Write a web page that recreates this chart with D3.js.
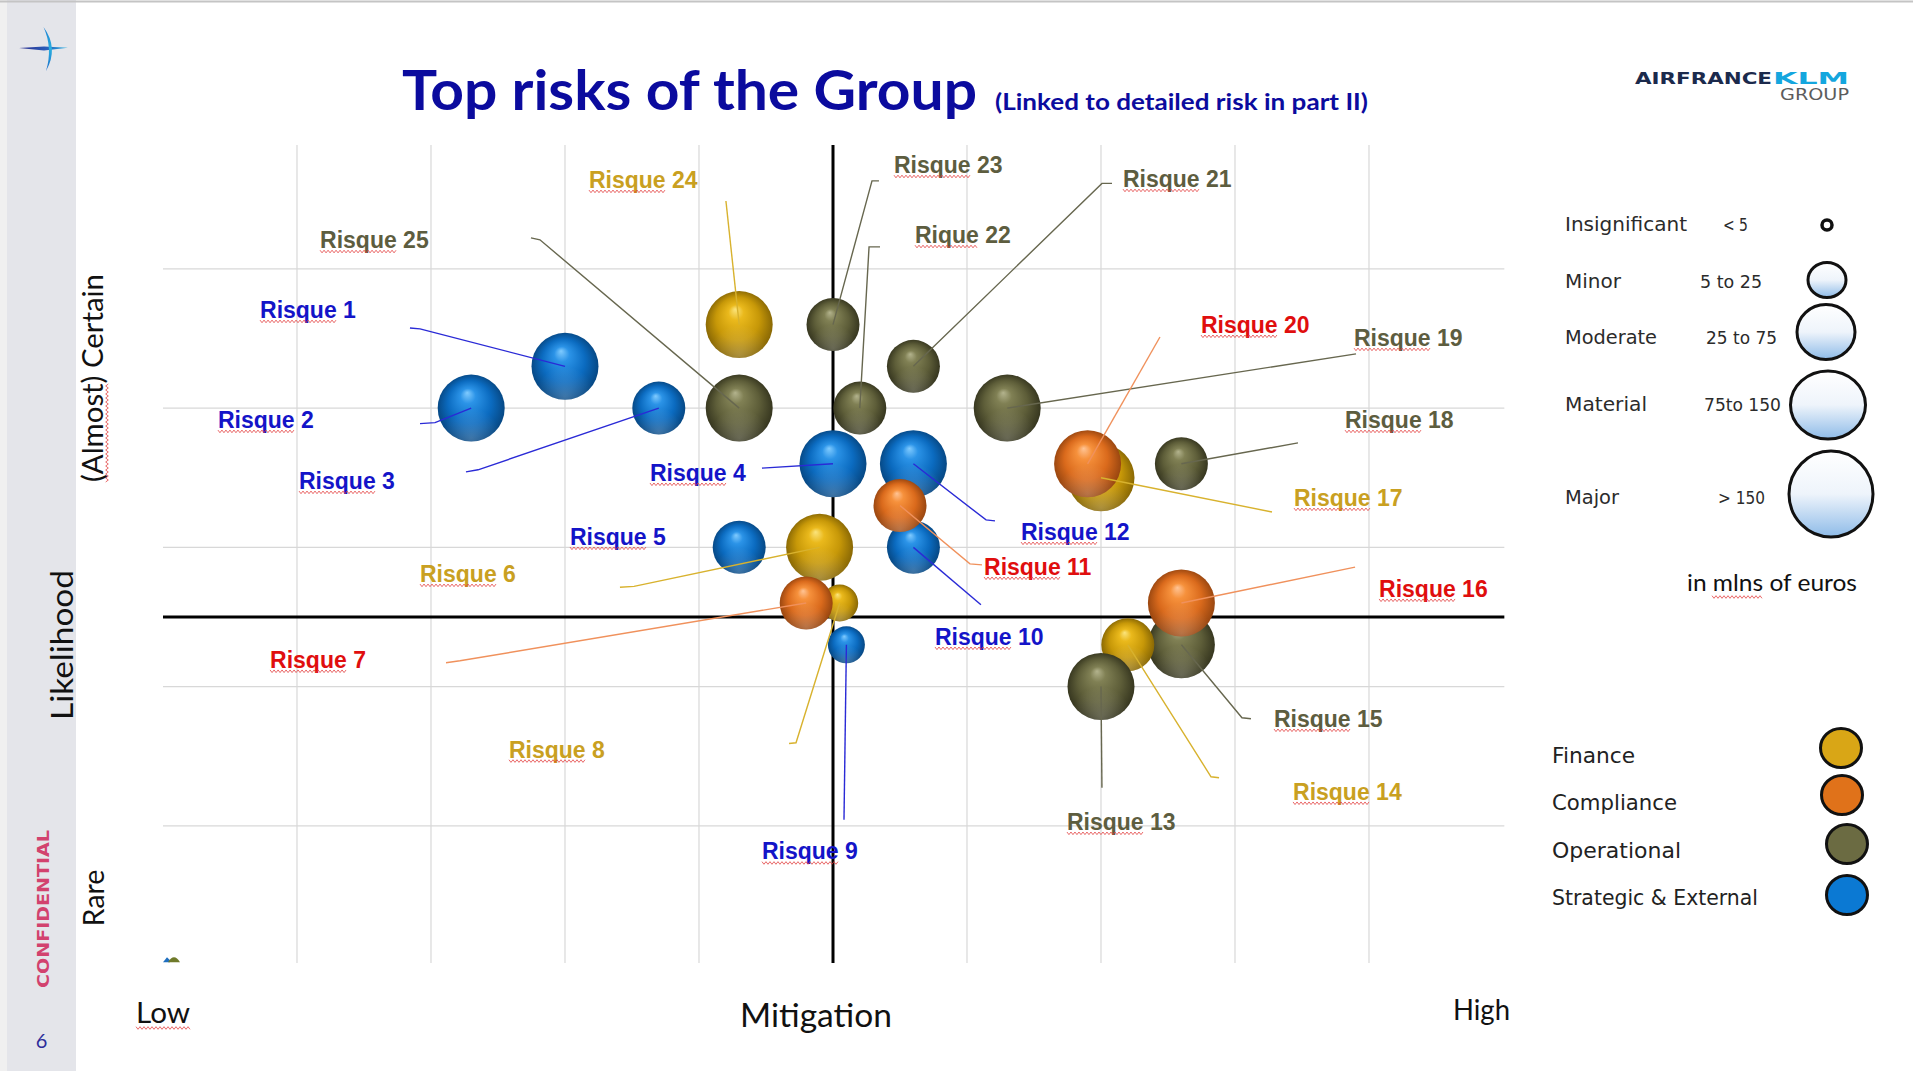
<!DOCTYPE html>
<html><head><meta charset="utf-8">
<script src="https://cdn.jsdelivr.net/npm/d3@7"></script>
<style>html,body{margin:0;padding:0;background:#fff;overflow:hidden}</style>
</head><body>
<svg id="c" width="1913" height="1071"></svg>
<script>
// ---------------- DATA ----------------
const risks = ["Risque 1","Risque 2","Risque 3","Risque 4","Risque 5","Risque 6","Risque 7","Risque 8","Risque 9","Risque 10",
  "Risque 11","Risque 12","Risque 13","Risque 14","Risque 15","Risque 16","Risque 17","Risque 18","Risque 19","Risque 20",
  "Risque 21","Rique 22","Risque 23","Risque 24","Risque 25"];
const categories = ["Finance","Compliance","Operational","Strategic & External"];
const riskCategory = ["Strategic & External","Strategic & External","Strategic & External","Strategic & External","Strategic & External",
  "Finance","Compliance","Finance","Strategic & External","Strategic & External",
  "Compliance","Strategic & External","Operational","Finance","Operational",
  "Compliance","Finance","Operational","Operational","Compliance",
  "Operational","Operational","Operational","Finance","Operational"];
// mitigation (x) and likelihood (y)
const mitigation = [3.0,2.3,3.7,5.0,4.3,4.9,4.8,5.05,5.1,5.6, 5.5,5.6,7.0,7.2,7.6,7.6,7.0,7.6,6.3,6.9, 5.6,5.2,5.0,4.3,4.3];
const likelihood = [4.3,4.0,4.0,3.6,3.0,3.0,2.6,2.6,2.3,3.0, 3.3,3.6,2.0,2.3,2.3,2.6,3.5,3.6,4.0,3.6, 4.3,4.0,4.6,4.6,4.0];
const impact = ["Material","Material","Moderate","Material","Moderate","Material","Moderate","Minor","Minor","Moderate",
  "Moderate","Material","Material","Moderate","Material","Material","Material","Moderate","Material","Material",
  "Moderate","Moderate","Moderate","Material","Material"];
// label anchor (left, baseline) in data units
const labelX = [0.724,0.410,1.015,3.634,3.037,1.918,0.799,2.582,4.470,5.761, 6.127,6.403,6.746,8.433,8.291,9.075,8.440,8.821,8.888,7.746, 7.164,5.612,5.455,3.179,1.172];
const labelY = [4.648,3.858,3.420,3.478,3.018,2.752,2.135,1.490,0.758,2.300, 2.803,3.054,0.971,1.187,1.711,2.645,3.298,3.858,4.447,4.541, 5.589,5.186,5.689,5.582,5.150];
// leader lines: start point, optional elbow (null = none); end is the bubble
const leadStartX = [1.843,1.918,2.261,4.470,null,3.410,2.112,4.672,5.082,6.104, 6.112,6.209,7.007,7.881,8.119,8.896,8.276,8.470,8.903,7.440, 7.082,5.351,5.343,4.201,2.746];
const leadStartY = [4.576,3.889,3.542,3.569,null,2.713,2.171,1.591,1.043,2.588, 2.874,3.190,1.273,1.345,1.769,2.858,3.254,3.750,4.390,4.511, 5.614,5.158,5.632,5.488,5.223];
const leadElbowX = [1.918,2.030,2.351,null,null,3.515,2.216,4.724,null,null, 6.022,6.142,null,7.821,8.052,null,null,null,null,null, 7.007,5.269,5.291,null,2.813];
const leadElbowY = [4.569,3.896,3.557,null,null,2.720,2.185,1.596,null,null, 2.881,3.197,null,1.352,1.776,null,null,null,null,null, 5.614,5.158,5.632,null,5.209];
const drawOrder = [1,0,2,24,23,22,21,20,18,3,11,9,10,4,5,7,6,8,16,19,17,14,13,12,15];
const sizeClasses = ["Insignificant","Minor","Moderate","Material","Major"];
const sizeRanges = ["< 5","5 to 25","25 to 75","75to 150","> 150"];
const xGridTicks = [1,2,3,4,6,7,8,9];
const yGridTicks = [1,2,3,4,5];

// ---------------- STYLE ----------------
const W = 1913, H = 1071;
const catFlat  = {"Finance":"#d9a616","Compliance":"#e0721a","Operational":"#6b6b42","Strategic & External":"#0b79d3"};
const catLabel = {"Finance":"#c9a021","Compliance":"#e00e0e","Operational":"#5d5d3f","Strategic & External":"#1414c8"};
const catLine  = {"Finance":"#d8b22e","Compliance":"#f0915c","Operational":"#67674f","Strategic & External":"#2a2ad6"};
const catSphere = {
  "Finance":["#fbe47c","#eab91c","#c79808","#846404"],
  "Compliance":["#ffc495","#f6913c","#da6a1c","#93430f"],
  "Operational":["#b3b38d","#808054","#5e5e39","#33331d"],
  "Strategic & External":["#80cbff","#2b93e7","#0b6bc0","#06457f"]
};

const svg = d3.select("#c");
const defs = svg.append("defs");

const x = d3.scaleLinear().domain([0,10]).range([163,1503]);
const y = d3.scaleLinear().domain([0,5.89]).range([965,145]);
const r = d3.scaleOrdinal().domain(["Minor","Moderate","Material"]).range([18.5,26.5,33.5]);

// background + sidebar
svg.append("rect").attr("width",W).attr("height",H).attr("fill","#fff");
svg.append("rect").attr("x",0).attr("y",0).attr("width",7).attr("height",H).attr("fill","#f0f0f0");
svg.append("rect").attr("x",7).attr("y",0).attr("width",69).attr("height",H).attr("fill","#e4e5ea");
svg.append("line").attr("x1",0).attr("x2",W).attr("y1",1.5).attr("y2",1.5).attr("stroke","#c4c4c4").attr("stroke-width",2);

// plane logo
const lg1 = defs.append("linearGradient").attr("id","planeH").attr("x1","0").attr("x2","1");
lg1.append("stop").attr("offset",0).attr("stop-color","#2a2a8c");
lg1.append("stop").attr("offset",0.55).attr("stop-color","#2a5cb8");
lg1.append("stop").attr("offset",1).attr("stop-color","#22b4e6");
const lg2 = defs.append("linearGradient").attr("id","planeV").attr("x1","0").attr("x2","0").attr("y1","0").attr("y2","1");
lg2.append("stop").attr("offset",0).attr("stop-color","#1d7fd2");
lg2.append("stop").attr("offset",0.5).attr("stop-color","#2ab0e0");
lg2.append("stop").attr("offset",1).attr("stop-color","#1a68c8");
svg.append("path").attr("d","M19,48 L44,46.4 L68,47.8 L44,50.4 Z").attr("fill","url(#planeH)");
svg.append("path").attr("d","M43.5,27 Q59,48 46,71 Q53,48 43.5,27 Z").attr("fill","url(#planeV)");

// CONFIDENTIAL and page number
svg.append("text").attr("transform","translate(49,909) rotate(-90)").attr("text-anchor","middle")
  .attr("font-family","DejaVu Sans").attr("font-weight","bold").attr("font-size",16)
  .attr("fill","#d2426e").attr("textLength",158).attr("lengthAdjust","spacingAndGlyphs").text("CONFIDENTIAL");
svg.append("text").attr("x",41.5).attr("y",1048).attr("text-anchor","middle").attr("font-family","Lato")
  .attr("font-size",20).attr("fill","#2d2d9a").text("6");

// Title
svg.append("text").attr("x",402).attr("y",110).attr("font-family","Lato").attr("font-weight","bold")
  .attr("font-size",56).attr("fill","#0b0b9e").attr("textLength",575).attr("lengthAdjust","spacingAndGlyphs")
  .text("Top risks of the Group");
svg.append("text").attr("x",995).attr("y",110).attr("font-family","Lato").attr("font-weight","bold")
  .attr("font-size",22).attr("fill","#0b0b9e").attr("textLength",373).attr("lengthAdjust","spacingAndGlyphs")
  .text("(Linked to detailed risk in part II)");

// Air France KLM logo
svg.append("text").attr("x",1635).attr("y",84).attr("font-family","DejaVu Sans").attr("font-weight","bold")
  .attr("font-size",16).attr("fill","#1b2a4c").attr("textLength",137).attr("lengthAdjust","spacingAndGlyphs").text("AIRFRANCE");
svg.append("text").attr("x",1773).attr("y",84).attr("font-family","DejaVu Sans").attr("font-weight","bold")
  .attr("font-size",16).attr("fill","#14a6de").attr("textLength",76).attr("lengthAdjust","spacingAndGlyphs").text("KLM");
svg.append("text").attr("x",1780).attr("y",100).attr("font-family","DejaVu Sans")
  .attr("font-size",15).attr("fill","#5c5c5c").attr("textLength",69).attr("lengthAdjust","spacingAndGlyphs").text("GROUP");

// squiggle helper (spell-check underline)
function squiggle(g, x1, x2, yy){
  const pts = [];
  let k = 0;
  for (let xx = x1; xx <= x2; xx += 2){ pts.push([xx, yy + (k%2 ? 1.3 : -1.3)]); k++; }
  g.append("path").attr("d", d3.line()(pts)).attr("fill","none").attr("stroke","#e23a3a").attr("stroke-width",0.9).attr("opacity",0.85);
}

// Grid
const grid = svg.append("g");
grid.selectAll(".vg").data(xGridTicks).join("line").attr("class","vg")
  .attr("x1",d=>x(d)).attr("x2",d=>x(d)).attr("y1",y(5.89)).attr("y2",y(0.015))
  .attr("stroke","#d8d8d8").attr("stroke-width",1.2);
grid.selectAll(".hg").data(yGridTicks).join("line").attr("class","hg")
  .attr("x1",x(0)).attr("x2",x(10.01)).attr("y1",d=>y(d)).attr("y2",d=>y(d))
  .attr("stroke","#d8d8d8").attr("stroke-width",1.2);
// axes cross
grid.append("line").attr("x1",x(5)).attr("x2",x(5)).attr("y1",y(5.89)).attr("y2",y(0.015)).attr("stroke","#000").attr("stroke-width",3);
grid.append("line").attr("x1",x(0)).attr("x2",x(10.01)).attr("y1",y(2.5)).attr("y2",y(2.5)).attr("stroke","#000").attr("stroke-width",3);

// tiny chart icon at origin
svg.append("path").attr("d",`M${x(0)},${y(0.02)} l4,-5 l3,3 l0,2 Z`).attr("fill","#1f6fc0");
svg.append("path").attr("d",`M${x(0)+5},${y(0.02)} q6,-10 12,0 Z`).attr("fill","#6f7a2a");

// Axis titles
const axisFont = "Lato";
svg.append("text").attr("transform","translate(73,645) rotate(-90)").attr("text-anchor","middle")
  .attr("font-family",axisFont).attr("font-size",31).attr("fill","#111").attr("textLength",150).attr("lengthAdjust","spacingAndGlyphs").text("Likelihood");
const alm = svg.append("g").attr("transform","translate(103,378) rotate(-90)");
alm.append("text").attr("text-anchor","middle").attr("font-family",axisFont).attr("font-size",28).attr("fill","#111")
  .attr("textLength",208).attr("lengthAdjust","spacingAndGlyphs").text("(Almost) Certain");
squiggle(alm, -104, -6, 4);
svg.append("text").attr("transform","translate(104,898) rotate(-90)").attr("text-anchor","middle")
  .attr("font-family",axisFont).attr("font-size",28).attr("fill","#111").attr("textLength",57).attr("lengthAdjust","spacingAndGlyphs").text("Rare");
svg.append("text").attr("x",136).attr("y",1023).attr("font-family",axisFont).attr("font-size",28).attr("fill","#111")
  .attr("textLength",54).attr("lengthAdjust","spacingAndGlyphs").text("Low");
squiggle(svg, 136, 190, 1028);
svg.append("text").attr("x",740).attr("y",1027).attr("font-family",axisFont).attr("font-size",33).attr("fill","#111")
  .attr("textLength",152).attr("lengthAdjust","spacingAndGlyphs").text("Mitigation");
svg.append("text").attr("x",1453).attr("y",1020).attr("font-family",axisFont).attr("font-size",28).attr("fill","#111")
  .attr("textLength",57).attr("lengthAdjust","spacingAndGlyphs").text("High");

// Sphere gradients
const offs = [0,0.22,0.62,1];
categories.forEach((c,k)=>{
  const g = defs.append("radialGradient").attr("id","sph"+k)
    .attr("cx","50%").attr("cy","50%").attr("r","52%").attr("fx","44%").attr("fy","27%");
  catSphere[c].forEach((col,j)=> g.append("stop").attr("offset",offs[j]).attr("stop-color",col));
});
const rim = defs.append("radialGradient").attr("id","rim").attr("cx","50%").attr("cy","95%").attr("r","45%");
rim.append("stop").attr("offset",0).attr("stop-color","#fff").attr("stop-opacity",0.22);
rim.append("stop").attr("offset",1).attr("stop-color","#fff").attr("stop-opacity",0);

// Bubbles
const bub = svg.append("g");
drawOrder.forEach(i=>{
  const k = categories.indexOf(riskCategory[i]);
  bub.append("circle").attr("cx",x(mitigation[i])).attr("cy",y(likelihood[i])).attr("r",r(impact[i]))
    .attr("fill",`url(#sph${k})`);
  bub.append("circle").attr("cx",x(mitigation[i])).attr("cy",y(likelihood[i])).attr("r",r(impact[i]))
    .attr("fill","url(#rim)");
});

// Leader lines
const leads = svg.append("g");
risks.forEach((name,i)=>{
  if (leadStartX[i] === null) return;
  const pts = [[x(leadStartX[i]), y(leadStartY[i])]];
  if (leadElbowX[i] !== null) pts.push([x(leadElbowX[i]), y(leadElbowY[i])]);
  pts.push([x(mitigation[i]), y(likelihood[i])]);
  leads.append("path").attr("d", d3.line()(pts)).attr("fill","none")
    .attr("stroke", catLine[riskCategory[i]]).attr("stroke-width",1.4);
});

// Labels
const labs = svg.append("g");
const sq = svg.append("g");
risks.forEach((name,i)=>{
  const t = labs.append("text").attr("x",x(labelX[i])).attr("y",y(labelY[i]))
    .attr("font-family","Liberation Sans, Arial, sans-serif").attr("font-weight","bold").attr("font-size",23)
    .attr("fill",catLabel[riskCategory[i]]).text(name);
  const w = t.node().getSubStringLength(0, name.indexOf(" "));
  squiggle(sq, x(labelX[i]), x(labelX[i]) + w, y(labelY[i]) + 3.5);
});

// Size legend
const legFont = "DejaVu Sans";
const sizeY = [231,288,344,411,504];
const sizeW = [122,56,92,82,54];
const rangeX = [1723,1700,1706,1704,1718];
const rangeW = [25,62,71,77,47];
const circX = [1827,1827,1826,1828,1831];
const circY = [225,280,332,405,494];
const circRx = [5,19,29,37.5,42];
const circRy = [5,17.5,27.5,34,43];
const lgS = defs.append("linearGradient").attr("id","sizeFill").attr("x1",0).attr("x2",0).attr("y1",0).attr("y2",1);
lgS.append("stop").attr("offset",0).attr("stop-color","#ffffff");
lgS.append("stop").attr("offset",0.5).attr("stop-color","#eef4fb");
lgS.append("stop").attr("offset",1).attr("stop-color","#8ebbe8");
const sl = svg.append("g");
sizeClasses.forEach((s,i)=>{
  sl.append("text").attr("x",1565).attr("y",sizeY[i]).attr("font-family",legFont).attr("font-size",19).attr("fill","#2b2b2b")
    .attr("textLength",sizeW[i]).attr("lengthAdjust","spacingAndGlyphs").text(s);
  sl.append("text").attr("x",rangeX[i]).attr("y",sizeY[i]).attr("font-family",legFont).attr("font-size",18).attr("fill","#2b2b2b")
    .attr("textLength",rangeW[i]).attr("lengthAdjust","spacingAndGlyphs").text(sizeRanges[i]);
  sl.append("ellipse").attr("cx",circX[i]).attr("cy",circY[i]).attr("rx",circRx[i]).attr("ry",circRy[i])
    .attr("fill", i===0 ? "#fff" : "url(#sizeFill)").attr("stroke","#111").attr("stroke-width", i===0 ? 3.5 : 3);
});
sl.append("text").attr("x",1687).attr("y",591).attr("font-family","Lato").attr("font-size",23).attr("fill","#111")
  .attr("textLength",170).attr("lengthAdjust","spacingAndGlyphs").text("in mlns of euros");
squiggle(sl, 1712, 1763, 597);

// Category legend
const catY = [763,810,858,905];
const catW = [83,125,129,206];
const catCX = [1841,1842,1847,1847];
const catCY = [748,795,844,895];
const cl = svg.append("g");
categories.forEach((c,i)=>{
  cl.append("text").attr("x",1552).attr("y",catY[i]).attr("font-family",legFont).attr("font-size",21).attr("fill","#222")
    .attr("textLength",catW[i]).attr("lengthAdjust","spacingAndGlyphs").text(c);
  cl.append("ellipse").attr("cx",catCX[i]).attr("cy",catCY[i]).attr("rx",20.5).attr("ry",19.5)
    .attr("fill",catFlat[c]).attr("stroke","#111").attr("stroke-width",3);
});
</script>
</body></html>
